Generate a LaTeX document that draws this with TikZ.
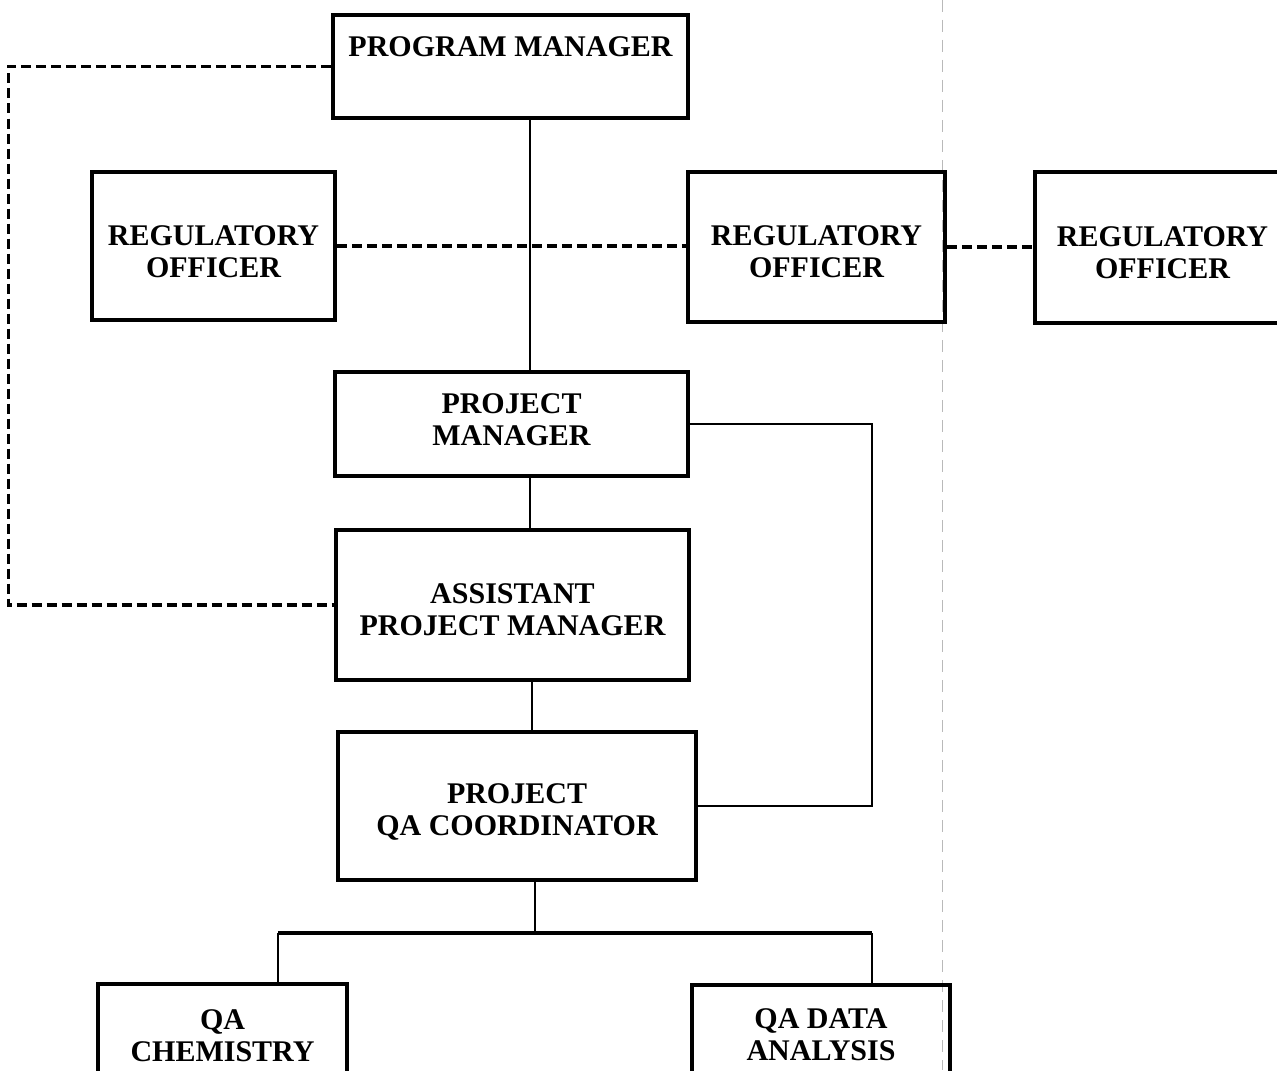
\documentclass[tikz,border=0pt]{standalone}
\usepackage{fontspec}
\setmainfont{Liberation Serif}
\begin{document}
\begin{tikzpicture}[x=0.5pt,y=-0.5pt,
  box/.style={draw, line width=1.9pt, inner sep=0pt},
  txt/.style={inner sep=0pt, align=center,
    font=\bfseries\fontsize{15}{16}\selectfont},
  conn/.style={line width=1.3pt},
  dconn/.style={line width=1.6pt, dash pattern=on 5pt off 2.5pt},
  faint/.style={gray!55, line width=0.5pt, dash pattern=on 6pt off 4pt}]
\useasboundingbox (0,0) rectangle (1277,1070);
\clip (0,0) rectangle (1277,1070);
\fill[white] (0,0) rectangle (1277,1070);
\draw[faint] (942,0) -- (942,1070);

% boxes
\node[box, minimum width=177.5pt, minimum height=51.5pt] (pm) at (510.5,66.5) {};
\node[box, minimum width=121.5pt, minimum height=74pt] (ro1) at (213.5,246) {};
\node[box, minimum width=128.5pt, minimum height=75pt] (ro2) at (816.5,247) {};
\node[box, minimum width=127.5pt, minimum height=75.5pt] (ro3) at (1162.5,247.5) {};
\node[box, minimum width=176.5pt, minimum height=52pt] (projm) at (511.5,424) {};
\node[box, minimum width=176.5pt, minimum height=75pt] (apm) at (512.5,605) {};
\node[box, minimum width=179pt, minimum height=74pt] (qac) at (517,806) {};
\node[box, minimum width=124.5pt, minimum height=53pt] (qchem) at (222.5,1037) {};
\node[box, minimum width=129pt, minimum height=52.5pt] (qda) at (821,1037.5) {};

% texts
\node[txt] (pmt) at (510.5,47) {PROGRAM MANAGER};
\node[txt] (ro1t) at (213.5,252) {REGULATORY\\OFFICER};
\node[txt] (ro2t) at (816.5,252) {REGULATORY\\OFFICER};
\node[txt] (ro3t) at (1162.5,253) {REGULATORY\\OFFICER};
\node[txt] (projmt) at (511.5,420) {PROJECT\\MANAGER};
\node[txt] (apmt) at (512.5,609.5) {ASSISTANT\\PROJECT MANAGER};
\node[txt] (qact) at (517,812) {PROJECT\\QA COORDINATOR};
\node[txt] (qchemt) at (222.5,1036) {QA\\CHEMISTRY};
\node[txt] (qdat) at (821,1035) {QA DATA\\ANALYSIS};

\coordinate (c1) at (530,0);
\coordinate (c2) at (532,0);
\coordinate (c3) at (535,0);
\coordinate (jl) at (278,933);
\coordinate (jr) at (872,933);

\draw[conn] (pm.south -| c1) -- (projm.north -| c1);
\draw[dconn] (ro1.east) -- (ro1.east -| ro2.west);
\draw[dconn] (ro2.east) -- (ro2.east -| ro3.west);
\draw[dconn] (pm.west) -- ++(-323,0) |- (apm.west);
\draw[conn] (projm.south -| c1) -- (apm.north -| c1);
\draw[conn] (apm.south -| c2) -- (qac.north -| c2);
\draw[conn] (projm.east) -- ++(182,0) |- (qac.east);
\draw[conn] (qac.south -| c3) -- (jl -| c3);
\draw[conn, line width=1.7pt] (jl) -- (jr);
\draw[conn] (jl) -- (jl |- qchem.north);
\draw[conn] (jr) -- (jr |- qda.north);
\end{tikzpicture}
\end{document}
